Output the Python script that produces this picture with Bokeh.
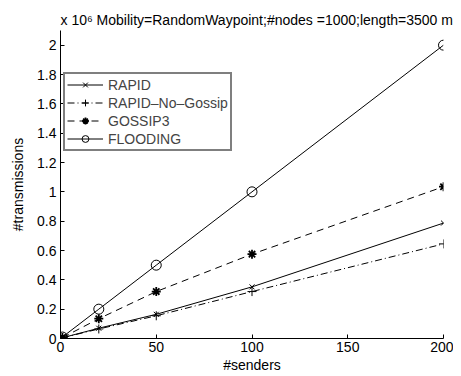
from bokeh.plotting import figure
from bokeh.models import Range1d, FixedTicker, Legend, LegendItem
from bokeh.embed import file_html
from bokeh.resources import INLINE

senders = [1, 20, 50, 100, 200]
rapid = [0.005, 0.07, 0.165, 0.352, 0.787]
rapid_no_gossip = [0.005, 0.065, 0.155, 0.32, 0.645]
gossip3 = [0.006, 0.135, 0.32, 0.575, 1.035]
flooding = [0.01, 0.2, 0.5, 1.0, 2.0]

x_ticks = [0, 50, 100, 150, 200]
y_ticks = [0, 0.2, 0.4, 0.6, 0.8, 1.0, 1.2, 1.4, 1.6, 1.8, 2.0]
y_tick_labels = ["0", "0.2", "0.4", "0.6", "0.8", "1", "1.2", "1.4", "1.6", "1.8", "2"]

FONT = "Liberation Sans"

p = figure(width=453, height=375, output_backend="svg", toolbar_location=None,
           x_range=Range1d(0, 200), y_range=Range1d(0, 2.1),
           min_border_left=60, min_border_right=10, min_border_top=30, min_border_bottom=37,
           title="x 10\u2076  Mobility=RandomWaypoint;#nodes =1000;length=3500 m")
p.title.align = "left"
p.title.text_font = FONT
p.title.text_font_size = "14px"
p.title.text_font_style = "normal"
p.title.text_color = "black"
p.title.standoff = 6
p.outline_line_color = None
p.grid.visible = False
p.background_fill_color = "white"

for ax in (p.xaxis[0], p.yaxis[0]):
    ax.major_tick_in = 4
    ax.major_tick_out = 0
    ax.minor_tick_line_color = None
    ax.axis_line_color = "black"
    ax.major_tick_line_color = "black"
    ax.major_label_text_font = FONT
    ax.major_label_text_font_size = "14px"
    ax.major_label_text_color = "black"
    ax.axis_label_text_font = FONT
    ax.axis_label_text_font_size = "14px"
    ax.axis_label_text_font_style = "normal"
    ax.axis_label_text_color = "black"

p.xaxis.ticker = FixedTicker(ticks=x_ticks)
p.yaxis.ticker = FixedTicker(ticks=y_ticks)
p.yaxis.major_label_overrides = {t: l for t, l in zip(y_ticks, y_tick_labels)}
p.xaxis.axis_label = "#senders"
p.yaxis.axis_label = "#transmissions"
p.xaxis.major_label_standoff = 3
p.xaxis.axis_label_standoff = 2
p.yaxis.major_label_standoff = 4
p.yaxis.axis_label_standoff = 8

r1 = p.line(senders, rapid, line_color="black", line_width=1)
m1 = p.scatter(senders, rapid, marker="x", size=7, line_color="black")
r2 = p.line(senders, rapid_no_gossip, line_color="black", line_width=1, line_dash="7 3 1 3")
m2 = p.scatter(senders, rapid_no_gossip, marker="cross", size=9, line_color="black")
r3 = p.line(senders, gossip3, line_color="black", line_width=1, line_dash="7 5")
m3 = p.scatter(senders, gossip3, marker="asterisk", size=9, line_color="black", line_width=1.8)
r4 = p.line(senders, flooding, line_color="black", line_width=1)
m4 = p.scatter(senders, flooding, marker="circle", size=10, line_color="black", fill_color=None)

legend = Legend(items=[
    LegendItem(label="RAPID", renderers=[r1, m1]),
    LegendItem(label="RAPID\u2013No\u2013Gossip", renderers=[r2, m2]),
    LegendItem(label="GOSSIP3", renderers=[r3, m3]),
    LegendItem(label="FLOODING", renderers=[r4, m4]),
], location=(3, 187))
legend.border_line_color = "black"
legend.border_line_width = 2
legend.label_text_font = FONT
legend.label_text_font_size = "14px"
legend.glyph_width = 36
legend.glyph_height = 17
legend.label_height = 17
legend.spacing = 1
legend.padding = 2
legend.label_standoff = 5
legend.margin = 0
legend.background_fill_alpha = 1
p.add_layout(legend, "center")

open("out.html", "w").write(file_html(p, INLINE))
